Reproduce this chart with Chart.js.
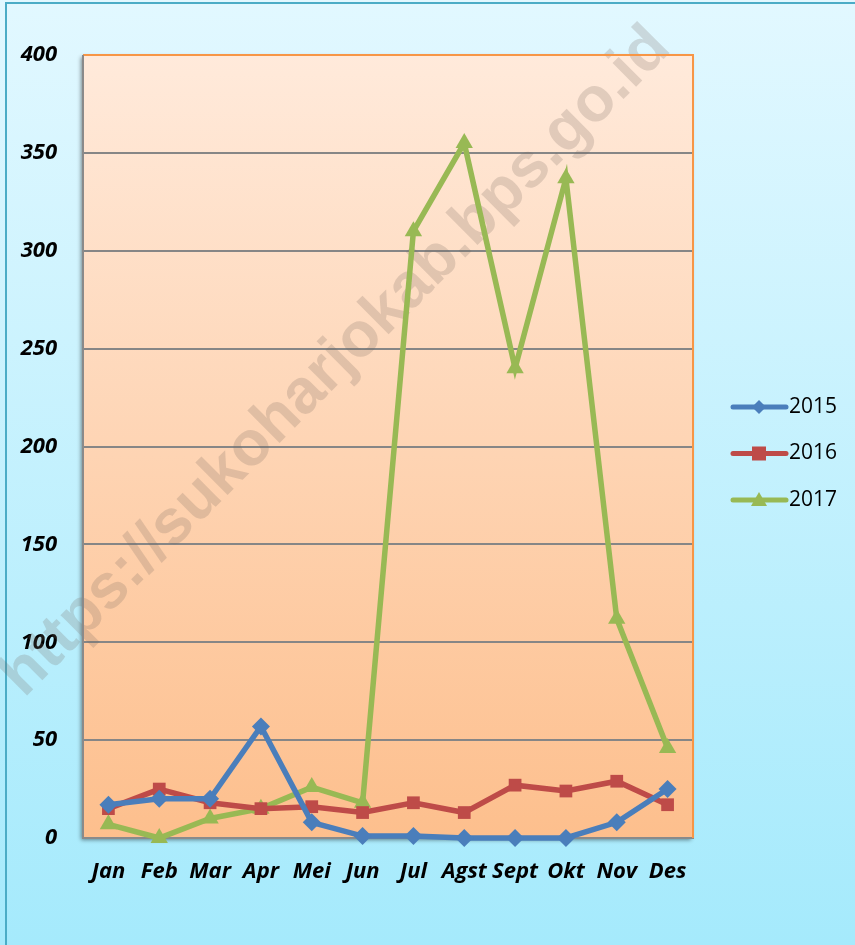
<!DOCTYPE html>
<html>
<head>
<meta charset="utf-8">
<script src="https://cdn.jsdelivr.net/npm/chart.js@4"></script>
<style>
    html, body { margin: 0; padding: 0; background: #ffffff; }
    canvas { display: block; }
</style>
</head>
<body>
<canvas id="chart" width="855" height="945"></canvas>
<script>
// Chart data
const months = ["Jan", "Feb", "Mar", "Apr", "Mei", "Jun", "Jul", "Agst", "Sept", "Okt", "Nov", "Des"];
const seriesNames = ["2015", "2016", "2017"];
const values2015 = [17, 20, 20, 57, 8, 1, 1, 0, 0, 0, 8, 25];
const values2016 = [15, 25, 18, 15, 16, 13, 18, 13, 27, 24, 29, 17];
const values2017 = [7, 0, 10, 15, 26, 18, 310, 355, 240, 337, 112, 46];
const yTicks = [0, 50, 100, 150, 200, 250, 300, 350, 400];

const watermarkText = "https://sukoharjokab.bps.go.id";

const COLORS = {
    blue: "#4a7ebb",
    red: "#be4b48",
    green: "#98b954"
};

const FONT_FAMILY = "'Open Sans', 'Liberation Sans', sans-serif";

// Background, plot frame, watermark and legend
const backgroundPlugin = {
    id: "background",
    beforeDraw(chart){
        const ctx = chart.ctx;
        const area = chart.chartArea;
        const w = chart.width, h = chart.height;

        // page gradient
        const bg = ctx.createLinearGradient(0, 0, 0, h);
        bg.addColorStop(0, "#e2f8ff");
        bg.addColorStop(1, "#a5eafc");
        ctx.save();
        ctx.fillStyle = bg;
        ctx.fillRect(0, 0, w, h);

        // outer frame (top and left)
        ctx.strokeStyle = "#4bacc6";
        ctx.lineWidth = 2;
        ctx.beginPath();
        ctx.moveTo(w, 3);
        ctx.lineTo(6, 3);
        ctx.lineTo(6, h);
        ctx.stroke();

        // plot area with shadow
        const pg = ctx.createLinearGradient(0, area.top, 0, area.bottom);
        pg.addColorStop(0, "#ffeadb");
        pg.addColorStop(1, "#fdbf8d");
        ctx.shadowColor = "rgba(0,0,0,0.45)";
        ctx.shadowBlur = 4;
        ctx.shadowOffsetX = -2;
        ctx.shadowOffsetY = 2;
        ctx.fillStyle = pg;
        ctx.fillRect(area.left, area.top, area.width, area.height);
        ctx.restore();
    },
    beforeDatasetsDraw(chart){
        const ctx = chart.ctx;
        ctx.save();
        ctx.translate(336, 362);
        ctx.rotate(-Math.PI / 4);
        ctx.font = "bold 63px 'Liberation Sans', Arial, sans-serif";
        ctx.fillStyle = "rgba(120, 105, 95, 0.22)";
        ctx.textAlign = "center";
        ctx.textBaseline = "middle";
        ctx.fillText(watermarkText, 0, 0);
        ctx.restore();
    },
    afterDraw(chart){
        const ctx = chart.ctx;
        const area = chart.chartArea;
        ctx.save();
        ctx.lineWidth = 2;
        ctx.strokeStyle = "#f79646";
        ctx.beginPath();
        ctx.moveTo(area.left, area.top);
        ctx.lineTo(area.right, area.top);
        ctx.lineTo(area.right, area.bottom);
        ctx.stroke();
        ctx.strokeStyle = "#8a8a8a";
        ctx.beginPath();
        ctx.moveTo(area.left, area.top);
        ctx.lineTo(area.left, area.bottom);
        ctx.stroke();

        // legend
        ctx.font = "21px " + FONT_FAMILY;
        ctx.textBaseline = "middle";
        chart.data.datasets.forEach((ds, i) => {
            const y = 407 + i * 46.5;
            ctx.strokeStyle = ds.borderColor;
            ctx.lineWidth = 5;
            ctx.lineCap = "round";
            ctx.beginPath();
            ctx.moveTo(733, y);
            ctx.lineTo(786, y);
            ctx.stroke();
            ctx.fillStyle = ds.borderColor;
            const cx = 759;
            if(ds.pointStyle === "rectRot"){
                ctx.beginPath();
                ctx.moveTo(cx, y - 7);
                ctx.lineTo(cx + 7, y);
                ctx.lineTo(cx, y + 7);
                ctx.lineTo(cx - 7, y);
                ctx.closePath();
                ctx.fill();
            }
            else if(ds.pointStyle === "rect"){
                ctx.fillRect(cx - 7, y - 7, 14, 14);
            }
            else{
                ctx.beginPath();
                ctx.moveTo(cx, y - 8);
                ctx.lineTo(cx + 8, y + 6);
                ctx.lineTo(cx - 8, y + 6);
                ctx.closePath();
                ctx.fill();
            }
            ctx.fillStyle = "#000000";
            ctx.fillText(ds.label, 789, y);
        });
        ctx.restore();
    }
};

function makeDataset(label, data, color, style, radius){
    return {
        label: label,
        data: data,
        borderColor: color,
        backgroundColor: color,
        borderWidth: 5.5,
        pointStyle: style,
        pointRadius: radius,
        pointBorderWidth: 0,
        tension: 0,
        clip: false
    };
}

const ctx = document.getElementById("chart").getContext("2d");
new Chart(ctx, {
    type: "line",
    data: {
        labels: months,
        datasets: [
            makeDataset(seriesNames[0], values2015, COLORS.blue, "rectRot", 9),
            makeDataset(seriesNames[1], values2016, COLORS.red, "rect", 9),
            makeDataset(seriesNames[2], values2017, COLORS.green, "triangle", 10)
        ]
    },
    options: {
        responsive: false,
        animation: false,
        layout: { padding: { left: 0, top: 55, right: 162, bottom: 0 } },
        plugins: {
            legend: { display: false },
            tooltip: { enabled: false }
        },
        scales: {
            x: {
                offset: true,
                grid: { display: false, drawTicks: false },
                border: { display: true, color: "#8a8a8a", width: 2 },
                ticks: {
                    color: "#000000",
                    padding: 21,
                    maxRotation: 0,
                    autoSkip: false,
                    font: { size: 22, weight: "bold", style: "italic", family: FONT_FAMILY }
                },
                afterFit(scale){ scale.height = 107; }
            },
            y: {
                min: 0,
                max: 400,
                afterBuildTicks(scale){
                    scale.ticks = yTicks.map(v => ({ value: v }));
                },
                grid: { color: "#868686", lineWidth: 2, drawTicks: false },
                border: { display: false },
                ticks: {
                    color: "#000000",
                    padding: 26,
                    font: { size: 22, weight: "bold", style: "italic", family: FONT_FAMILY }
                },
                afterFit(scale){ scale.width = 83; }
            }
        }
    },
    plugins: [backgroundPlugin]
});
</script>
</body>
</html>
